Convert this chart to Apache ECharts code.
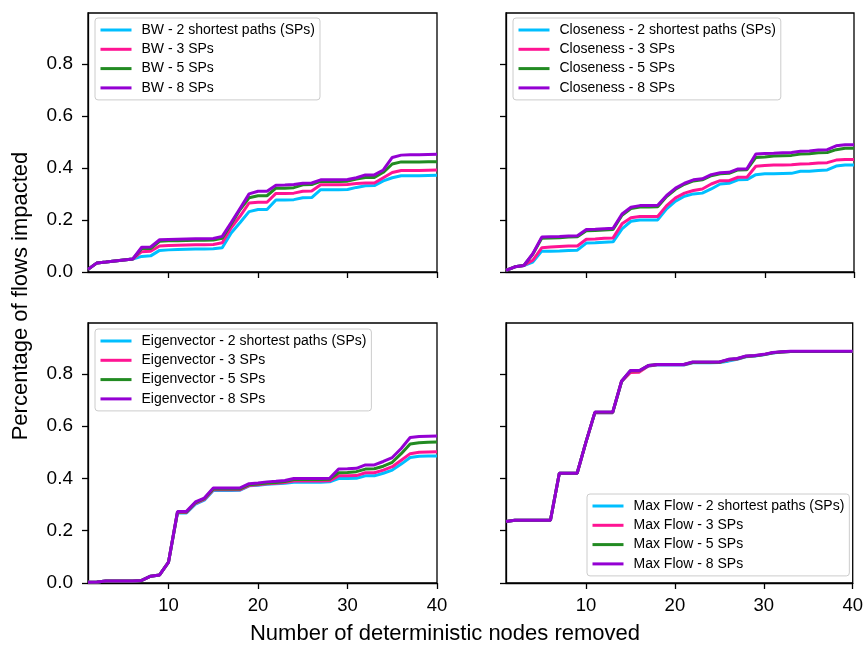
<!DOCTYPE html>
<html>
<head>
<meta charset="utf-8">
<script src="https://cdn.jsdelivr.net/npm/echarts@6/dist/echarts.min.js"></script>
<style>
html,body{margin:0;padding:0;background:#fff;}
#chart{width:866px;height:645px;}
</style>
</head>
<body>
<div id="chart"></div>
<script>
// x values: number of deterministic nodes removed
const nodesRemoved = [1,2,3,4,5,6,7,8,9,10,11,12,13,14,15,16,17,18,19,20,21,22,23,24,25,26,27,28,29,30,31,32,33,34,35,36,37,38,39,40];
const xTicks = [10,20,30,40];
const yTicks = [0,0.2,0.4,0.6,0.8];
const seriesSuffixes = ["2 shortest paths (SPs)", "3 SPs", "5 SPs", "8 SPs"];
const panelNames = ["BW", "Closeness", "Eigenvector", "Max Flow"];

// BW
const bw2 = [0.01,0.035,0.038,0.042,0.046,0.05,0.06,0.062,0.083,0.085,0.086,0.087,0.088,0.088,0.089,0.093,0.15,0.19,0.232,0.24,0.24,0.277,0.277,0.278,0.285,0.286,0.316,0.316,0.316,0.317,0.325,0.331,0.332,0.35,0.362,0.37,0.37,0.37,0.371,0.372];
const bw3 = [0.01,0.035,0.038,0.042,0.046,0.05,0.078,0.08,0.1,0.102,0.103,0.104,0.105,0.105,0.106,0.112,0.17,0.215,0.265,0.268,0.268,0.302,0.302,0.303,0.31,0.311,0.335,0.335,0.335,0.336,0.34,0.342,0.342,0.362,0.382,0.39,0.39,0.39,0.391,0.392];
const bw5 = [0.01,0.035,0.038,0.042,0.046,0.05,0.09,0.09,0.118,0.12,0.12,0.121,0.122,0.122,0.123,0.13,0.185,0.24,0.285,0.293,0.293,0.322,0.322,0.324,0.335,0.336,0.348,0.348,0.348,0.349,0.357,0.363,0.363,0.383,0.415,0.423,0.423,0.423,0.424,0.424];
const bw8 = [0.01,0.035,0.038,0.042,0.046,0.05,0.095,0.096,0.124,0.125,0.126,0.127,0.128,0.128,0.129,0.137,0.19,0.245,0.3,0.31,0.31,0.333,0.334,0.336,0.341,0.342,0.354,0.354,0.354,0.355,0.362,0.373,0.373,0.392,0.44,0.449,0.45,0.45,0.451,0.452];

// Closeness
const cl2 = [0.006,0.02,0.025,0.038,0.08,0.08,0.081,0.083,0.084,0.111,0.112,0.114,0.116,0.166,0.195,0.2,0.2,0.2,0.243,0.272,0.291,0.3,0.303,0.319,0.338,0.341,0.354,0.355,0.374,0.377,0.377,0.378,0.379,0.387,0.387,0.39,0.392,0.407,0.411,0.411];
const cl3 = [0.006,0.02,0.025,0.045,0.093,0.096,0.098,0.1,0.1,0.126,0.127,0.13,0.131,0.185,0.208,0.213,0.213,0.213,0.255,0.285,0.303,0.313,0.319,0.338,0.351,0.351,0.364,0.364,0.406,0.409,0.411,0.411,0.412,0.415,0.416,0.419,0.42,0.43,0.432,0.432];
const cl5 = [0.006,0.02,0.025,0.068,0.13,0.131,0.132,0.134,0.135,0.158,0.159,0.161,0.163,0.218,0.244,0.25,0.25,0.251,0.29,0.318,0.337,0.35,0.354,0.37,0.377,0.379,0.392,0.393,0.44,0.442,0.446,0.447,0.448,0.453,0.454,0.458,0.459,0.47,0.475,0.475];
const cl8 = [0.006,0.02,0.025,0.07,0.134,0.135,0.136,0.138,0.139,0.163,0.164,0.166,0.168,0.223,0.249,0.255,0.255,0.256,0.294,0.322,0.341,0.354,0.358,0.374,0.381,0.383,0.396,0.397,0.453,0.455,0.456,0.458,0.459,0.464,0.465,0.469,0.47,0.485,0.489,0.489];

// Eigenvector
const ev2 = [0.003,0.004,0.008,0.008,0.008,0.008,0.01,0.026,0.031,0.08,0.268,0.268,0.302,0.317,0.354,0.354,0.354,0.355,0.372,0.374,0.378,0.38,0.382,0.386,0.386,0.386,0.386,0.387,0.4,0.4,0.401,0.41,0.41,0.42,0.432,0.455,0.48,0.485,0.486,0.486];
const ev3 = [0.003,0.004,0.008,0.008,0.008,0.008,0.01,0.026,0.031,0.08,0.27,0.27,0.305,0.32,0.357,0.357,0.357,0.357,0.373,0.376,0.38,0.382,0.385,0.39,0.39,0.39,0.39,0.391,0.41,0.41,0.411,0.422,0.422,0.432,0.445,0.47,0.495,0.5,0.501,0.502];
const ev5 = [0.003,0.004,0.008,0.008,0.008,0.008,0.01,0.026,0.031,0.08,0.272,0.272,0.308,0.323,0.36,0.36,0.36,0.36,0.376,0.379,0.383,0.385,0.388,0.396,0.396,0.396,0.396,0.397,0.422,0.423,0.426,0.436,0.437,0.447,0.462,0.495,0.532,0.537,0.539,0.54];
const ev8 = [0.003,0.004,0.008,0.008,0.008,0.008,0.01,0.026,0.031,0.08,0.274,0.274,0.31,0.325,0.364,0.364,0.364,0.364,0.38,0.383,0.387,0.389,0.392,0.4,0.4,0.4,0.4,0.401,0.436,0.437,0.439,0.452,0.452,0.465,0.48,0.515,0.557,0.561,0.562,0.563];

// Max Flow
const mf2 = [0.235,0.24,0.24,0.24,0.24,0.24,0.42,0.42,0.42,0.54,0.652,0.652,0.652,0.77,0.811,0.811,0.83,0.834,0.834,0.834,0.834,0.843,0.843,0.843,0.844,0.849,0.856,0.866,0.869,0.873,0.88,0.884,0.886,0.886,0.886,0.886,0.886,0.886,0.886,0.886];
const mf3 = [0.235,0.24,0.24,0.24,0.24,0.24,0.42,0.42,0.42,0.54,0.652,0.652,0.652,0.771,0.806,0.807,0.83,0.835,0.835,0.835,0.835,0.844,0.844,0.844,0.845,0.853,0.857,0.867,0.87,0.874,0.881,0.884,0.886,0.886,0.886,0.886,0.886,0.886,0.886,0.886];
const mf5 = [0.235,0.24,0.24,0.24,0.24,0.24,0.42,0.42,0.42,0.54,0.653,0.653,0.653,0.772,0.812,0.812,0.832,0.836,0.836,0.836,0.836,0.845,0.845,0.845,0.845,0.855,0.858,0.868,0.87,0.874,0.881,0.884,0.886,0.886,0.886,0.886,0.886,0.886,0.886,0.886];
const mf8 = [0.235,0.24,0.24,0.24,0.24,0.24,0.42,0.42,0.42,0.54,0.654,0.654,0.654,0.773,0.813,0.813,0.832,0.836,0.836,0.836,0.836,0.846,0.846,0.846,0.846,0.856,0.859,0.869,0.871,0.875,0.882,0.885,0.887,0.887,0.887,0.887,0.887,0.887,0.887,0.887];

const panelData = [[bw2,bw3,bw5,bw8],[cl2,cl3,cl5,cl8],[ev2,ev3,ev5,ev8],[mf2,mf3,mf5,mf8]];
const colors = ["#00BFFF", "#FF1493", "#228B22", "#9400D3"];

const FONT = "Liberation Sans, Arial, Helvetica, sans-serif";
const grids = [
  {left: 88, top: 13, width: 349, height: 259},
  {left: 506, top: 13, width: 348, height: 259},
  {left: 88, top: 323, width: 349, height: 260},
  {left: 506, top: 323, width: 348, height: 260}
];
const legendPos = [
  {left: 95, top: 18},
  {left: 513, top: 18},
  {left: 95, top: 329},
  {left: 587, top: 494}
];

const option = {
  animation: false,
  backgroundColor: "#fff",
  grid: grids.map(g => Object.assign({show: true, borderColor: "#000", borderWidth: 1.3, backgroundColor: "transparent"}, g)),
  xAxis: grids.map((g, i) => ({
    type: "value", gridIndex: i, min: 1, max: 40,
    axisLine: {show: true, onZero: false, lineStyle: {color: "#000", width: 1.3}},
    axisTick: {show: true, length: 6, inside: false, customValues: xTicks, lineStyle: {color: "#000", width: 1.3}},
    axisLabel: {show: i >= 2, customValues: xTicks, color: "#000", fontSize: 18.5, fontFamily: FONT, margin: 13},
    splitLine: {show: false}
  })),
  yAxis: grids.map((g, i) => ({
    type: "value", gridIndex: i, min: 0, max: 0.995,
    axisLine: {show: true, onZero: false, lineStyle: {color: "#000", width: 1.3}},
    axisTick: {show: true, length: 6, inside: false, customValues: yTicks, lineStyle: {color: "#000", width: 1.3}},
    axisLabel: {show: i % 2 === 0, customValues: yTicks, color: "#000", fontSize: 19, fontFamily: FONT, margin: 15,
      formatter: v => v.toFixed(1)},
    splitLine: {show: false}
  })),
  legend: panelNames.map((p, i) => Object.assign({
    orient: "vertical",
    data: seriesSuffixes.map(s => p + " - " + s),
    itemWidth: 31, itemHeight: 14, itemGap: 5.3,
    padding: [5, 5, 5, 4],
    backgroundColor: "rgba(255,255,255,0.85)",
    borderColor: "#cccccc", borderWidth: 1, borderRadius: 3,
    itemStyle: {opacity: 0},
    lineStyle: {width: 3},
    textStyle: {fontSize: 14, fontFamily: FONT, color: "#000", padding: [0, 0, 0, 5]},
    selectedMode: false
  }, legendPos[i])),
  series: [],
  graphic: [
    {type: "text", x: 21, y: 296, rotation: Math.PI / 2,
      style: {text: "Percentage of flows impacted", fontSize: 22, fontFamily: FONT, fill: "#000", textAlign: "center", textVerticalAlign: "middle"}},
    {type: "text", x: 445, y: 634,
      style: {text: "Number of deterministic nodes removed", fontSize: 22, fontFamily: FONT, fill: "#000", textAlign: "center", textVerticalAlign: "middle"}}
  ]
};

panelNames.forEach((p, i) => {
  seriesSuffixes.forEach((s, k) => {
    option.series.push({
      name: p + " - " + s,
      type: "line",
      xAxisIndex: i, yAxisIndex: i,
      data: nodesRemoved.map((x, j) => [x, panelData[i][k][j]]),
      symbol: "none",
      showSymbol: false,
      color: colors[k],
      lineStyle: {color: colors[k], width: 3},
      itemStyle: {color: colors[k]},
      z: 2 + k
    });
  });
});

const chart = echarts.init(document.getElementById("chart"), null, {renderer: "canvas"});
chart.setOption(option);
</script>
</body>
</html>
